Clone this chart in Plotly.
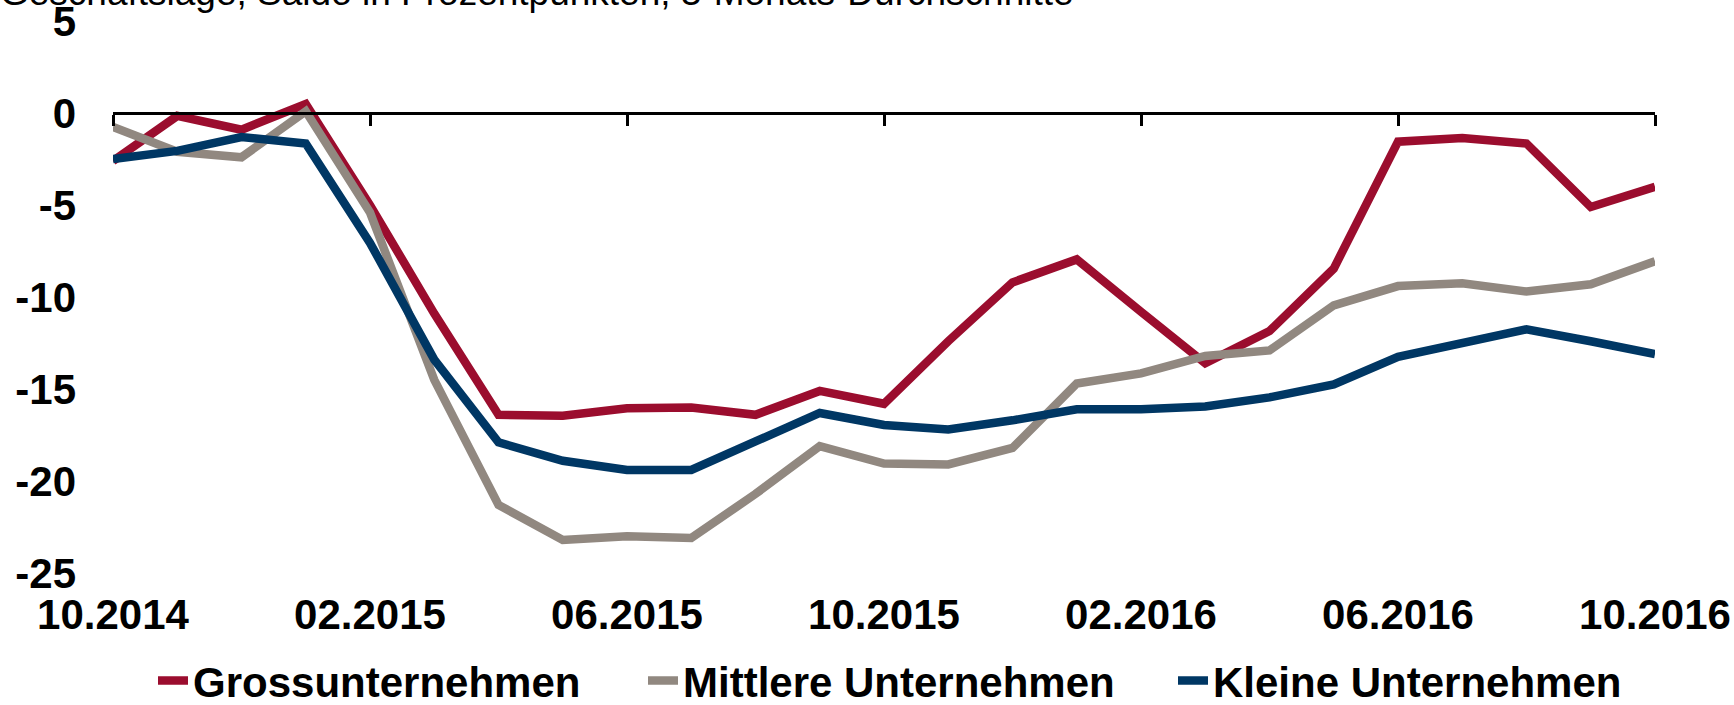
import plotly.graph_objects as go

months = ["10.2014", "11.2014", "12.2014", "01.2015", "02.2015", "03.2015", "04.2015",
          "05.2015", "06.2015", "07.2015", "08.2015", "09.2015", "10.2015", "11.2015",
          "12.2015", "01.2016", "02.2016", "03.2016", "04.2016", "05.2016", "06.2016",
          "07.2016", "08.2016", "09.2016", "10.2016"]

gross = [-2.6, -0.15, -0.9, 0.5, -5.0, -10.9, -16.4, -16.45, -16.05, -16.0, -16.4, -15.1,
         -15.8, -12.4, -9.2, -7.95, -10.8, -13.6, -11.85, -8.45, -1.55, -1.35, -1.65, -5.1, -4.0]
mittlere = [-0.75, -2.1, -2.4, 0.1, -5.4, -14.5, -21.3, -23.2, -23.0, -23.1, -20.7, -18.1,
            -19.05, -19.1, -18.2, -14.7, -14.15, -13.2, -12.9, -10.45, -9.4, -9.25, -9.7, -9.3, -8.05]
kleine = [-2.5, -2.05, -1.3, -1.65, -7.05, -13.4, -17.9, -18.9, -19.4, -19.4, -17.85, -16.3,
          -16.95, -17.2, -16.7, -16.1, -16.1, -15.95, -15.45, -14.75, -13.25, -12.55, -11.75, -12.4, -13.1]

series_names = ["Grossunternehmen", "Mittlere Unternehmen", "Kleine Unternehmen"]
colors = ["#9B0D2E", "#918880", "#003764"]
legend_ids = ["legend", "legend2", "legend3"]
legend_text_left = [196, 686, 1216]  # px where each legend text begins

x_tick_labels = ["10.2014", "02.2015", "06.2015", "10.2015", "02.2016", "06.2016", "10.2016"]
y_tick_vals = [5, 0, -5, -10, -15, -20, -25]
y_tick_text = ["5", "0", "-5", "-10", "-15", "-20", "-25"]

title_text = "Geschäftslage, Saldo in Prozentpunkten, 3-Monats-Durchschnitte"

FONT = "Liberation Sans, Arial, sans-serif"
W, H = 1734, 705

fig = go.Figure()
for name, vals, col, lg in zip(series_names, [gross, mittlere, kleine], colors, legend_ids):
    fig.add_trace(go.Scatter(x=months, y=vals, mode="lines", name=name, legend=lg,
                             line=dict(color=col, width=8.5)))

# invisible helper trace for the label axis
fig.add_trace(go.Scatter(x=[months[0]], y=[None], xaxis="x2", mode="lines",
                         showlegend=False, hoverinfo="skip"))

ymin, ymax = -25, 5
zero_pos = (0 - ymin) / (ymax - ymin)

legend_font = dict(family=FONT, size=42, color="black", weight="bold")
legends = {}
for lg, tx in zip(legend_ids, legend_text_left):
    legends[lg] = dict(orientation="h", xref="container", yref="container",
                       x=(tx - 43) / W, xanchor="left", y=0.0345, yanchor="middle",
                       font=legend_font, itemwidth=30, bgcolor="rgba(0,0,0,0)")

fig.update_layout(
    template="none",
    width=W, height=H,
    paper_bgcolor="white", plot_bgcolor="white",
    margin=dict(l=113, r=79, t=21, b=132, autoexpand=False),
    font=dict(family=FONT, color="black"),
    showlegend=True,
    xaxis=dict(type="category", categoryorder="array", categoryarray=months,
               range=[0, len(months) - 1], anchor="free", position=zero_pos,
               showline=True, linecolor="black", linewidth=3,
               ticks="outside", ticklen=11, tickwidth=2.5, tickcolor="black",
               tickvals=x_tick_labels, showticklabels=False, automargin=False,
               showgrid=False, zeroline=False),
    xaxis2=dict(type="category", categoryorder="array", categoryarray=months,
                overlaying="x", matches="x", anchor="y", side="bottom",
                showline=False, ticks="", tickvals=x_tick_labels, ticktext=x_tick_labels,
                ticklabelstandoff=13, automargin=False,
                tickfont=dict(family=FONT, size=42, color="black", weight="bold"),
                showgrid=False, zeroline=False),
    yaxis=dict(range=[ymin, ymax + 0.01], tickvals=y_tick_vals, ticktext=y_tick_text,
               showline=False, ticks="", showgrid=False, zeroline=False,
               ticklabelstandoff=36, automargin=False, ticklabeloverflow="allow",
               tickfont=dict(family=FONT, size=42, color="black", weight="bold")),
    title=dict(text=title_text, x=0, xref="container", xanchor="left",
               y=0.9929, yref="container", yanchor="bottom",
               font=dict(family=FONT, size=37, color="black")),
    **legends,
)

fig.write_html("out.html", config={"displayModeBar": False},
               post_script="document.body.style.margin='0';document.body.style.overflow='hidden';")
